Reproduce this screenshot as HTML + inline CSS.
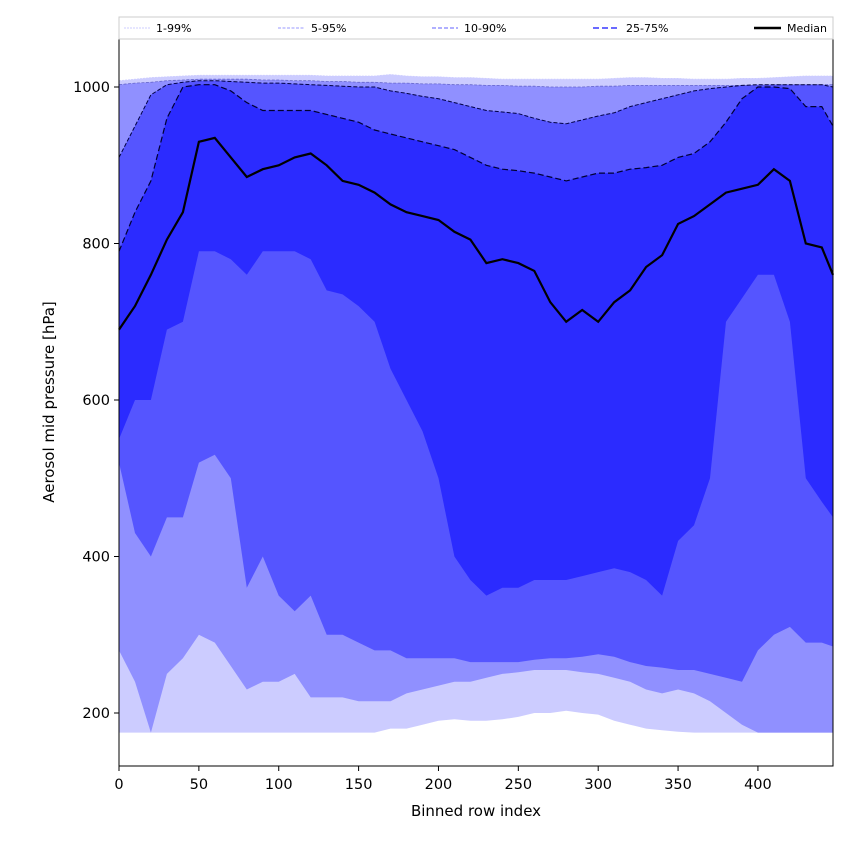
<!DOCTYPE html>
<html><head><meta charset="utf-8"><style>
body{margin:0;background:#fff;font-family:"DejaVu Sans","Liberation Sans",sans-serif}
svg text{font-family:"DejaVu Sans","Liberation Sans",sans-serif}
</style></head><body>
<svg id="chart" width="850" height="850" viewBox="0 0 850 850" xmlns="http://www.w3.org/2000/svg">
<g id="bands"></g>
<g id="lines"></g>
<rect x="119" y="39" width="714" height="727" fill="none" stroke="#000" stroke-width="1"/>
<g id="axes"></g>
<text x="476" y="816" font-size="15" text-anchor="middle">Binned row index</text>
<text transform="translate(54,402) rotate(-90)" font-size="15" text-anchor="middle">Aerosol mid pressure [hPa]</text>
<g>
<rect x="119" y="17" width="714" height="22" fill="#fff" stroke="#ccc"/>
<g><line x1="124" y1="28" x2="150" y2="28" stroke="#ccccff" stroke-width="1" stroke-dasharray="2,1"/><text x="156" y="32" font-size="11">1-99%</text></g>
<g><line x1="278" y1="28" x2="305" y2="28" stroke="#9999ff" stroke-width="1" stroke-dasharray="3,1.5"/><text x="311" y="32" font-size="11">5-95%</text></g>
<g><line x1="432" y1="28" x2="458" y2="28" stroke="#8080ff" stroke-width="1.3" stroke-dasharray="4,2"/><text x="464" y="32" font-size="11">10-90%</text></g>
<g><line x1="593" y1="28" x2="620" y2="28" stroke="#6a6aff" stroke-width="2" stroke-dasharray="6,3"/><text x="626" y="32" font-size="11">25-75%</text></g>
<g><line x1="754" y1="28" x2="781" y2="28" stroke="#000" stroke-width="2.5"/><text x="787" y="32" font-size="11">Median</text></g>
</g>
</svg>
<script>
const xs=[0,10,20,30,40,50,60,70,80,90,100,110,120,130,140,150,160,170,180,190,200,210,220,230,240,250,260,270,280,290,300,310,320,330,340,350,360,370,380,390,400,410,420,430,440,447];
const median=[690,720,760,805,840,930,935,910,885,895,900,910,915,900,880,875,865,850,840,835,830,815,805,775,780,775,765,725,700,715,700,725,740,770,785,825,835,850,865,870,875,895,880,800,795,760];
const p75=[790,840,880,960,1000,1003,1003,995,980,970,970,970,970,965,960,955,945,940,935,930,925,920,910,900,895,893,890,885,880,885,890,890,895,897,900,910,915,930,955,985,1000,1000,998,975,975,950];
const p90=[910,950,990,1003,1006,1008,1008,1007,1006,1005,1005,1004,1003,1002,1001,1000,1000,995,992,988,985,980,975,970,968,966,960,955,953,958,963,967,975,980,985,990,995,998,1000,1002,1003,1003,1003,1003,1003,1000];
const p95=[1003,1005,1006,1008,1009,1010,1010,1010,1010,1009,1009,1008,1008,1007,1007,1006,1006,1005,1005,1004,1004,1003,1003,1002,1002,1001,1001,1000,1000,1000,1001,1001,1002,1002,1002,1002,1002,1002,1002,1002,1002,1003,1003,1003,1003,1003];
const p99=[1008,1010,1012,1013,1014,1015,1015,1015,1015,1015,1015,1015,1015,1014,1014,1014,1014,1016,1014,1013,1013,1012,1012,1011,1010,1010,1010,1010,1010,1010,1010,1011,1012,1012,1011,1011,1010,1010,1010,1011,1011,1012,1013,1014,1014,1014];
const p25=[550,600,600,690,700,790,790,780,760,790,790,790,780,740,735,720,700,640,600,560,500,400,370,350,360,360,370,370,370,375,380,385,380,370,350,420,440,500,700,730,760,760,700,500,470,450];
const p10=[520,430,400,450,450,520,530,500,360,400,350,330,350,300,300,290,280,280,270,270,270,270,265,265,265,265,268,270,270,272,275,272,265,260,258,255,255,250,245,240,280,300,310,290,290,285];
const p5=[280,240,175,250,270,300,290,260,230,240,240,250,220,220,220,215,215,215,225,230,235,240,240,245,250,252,255,255,255,252,250,245,240,230,225,230,225,215,200,185,175,175,175,175,175,175];
const p1=[175,175,175,175,175,175,175,175,175,175,175,175,175,175,175,175,175,180,180,185,190,192,190,190,192,195,200,200,203,200,198,190,185,180,178,176,175,175,175,175,175,175,175,175,175,175];
const xTicks=[0,50,100,150,200,250,300,350,400];
const yTicks=[200,400,600,800,1000];
const NS="http://www.w3.org/2000/svg";
const X=v=>119+v*(714/447);
const Y=v=>713-(v-200)*(626/800);
function pts(a){return xs.map((x,i)=>X(x).toFixed(1)+','+Y(a[i]).toFixed(1));}
const bands=document.getElementById('bands');
[[p99,p1,'#ccccff','band-1-99'],[p95,p5,'#9090ff','band-5-95'],[p90,p10,'#5555ff','band-10-90'],[p75,p25,'#2b2bff','band-25-75']].forEach(b=>{
 const p=document.createElementNS(NS,'polygon');
 p.setAttribute('points',pts(b[0]).concat(pts(b[1]).reverse()).join(' '));
 p.setAttribute('fill',b[2]);
 
 
 bands.appendChild(p);
});
const lines=document.getElementById('lines');
[[p99,'#ccccff',0.8,'2,1'],[p95,'#6666cc',0.8,'3,1.5'],[p90,'#000044',1,'4,2'],[p75,'#000033',1.2,'6,3']].forEach(l=>{
 const pl=document.createElementNS(NS,'polyline');
 pl.setAttribute('points',pts(l[0]).join(' '));
 pl.setAttribute('fill','none');pl.setAttribute('stroke',l[1]);pl.setAttribute('stroke-width',l[2]);pl.setAttribute('stroke-dasharray',l[3]);
 
 
 lines.appendChild(pl);
});
const m=document.createElementNS(NS,'polyline');
m.setAttribute('points',pts(median).join(' '));
m.setAttribute('fill','none');m.setAttribute('stroke','#000');m.setAttribute('stroke-width','2.2');


lines.appendChild(m);
const axes=document.getElementById('axes');
xTicks.forEach(t=>{
 const l=document.createElementNS(NS,'line');l.setAttribute('x1',X(t));l.setAttribute('x2',X(t));l.setAttribute('y1',766);l.setAttribute('y2',771);l.setAttribute('stroke','#000');
 
 
 axes.appendChild(l);
 const tx=document.createElementNS(NS,'text');tx.setAttribute('x',X(t));tx.setAttribute('y',789);tx.setAttribute('font-size','14.5');tx.setAttribute('text-anchor','middle');tx.textContent=t;
 
 
 axes.appendChild(tx);
});
yTicks.forEach(t=>{
 const l=document.createElementNS(NS,'line');l.setAttribute('x1',114);l.setAttribute('x2',119);l.setAttribute('y1',Y(t));l.setAttribute('y2',Y(t));l.setAttribute('stroke','#000');
 
 
 axes.appendChild(l);
 const tx=document.createElementNS(NS,'text');tx.setAttribute('x',110);tx.setAttribute('y',Y(t)+5);tx.setAttribute('font-size','14.5');tx.setAttribute('text-anchor','end');tx.textContent=t;
 
 
 axes.appendChild(tx);
});
</script>
</body></html>
